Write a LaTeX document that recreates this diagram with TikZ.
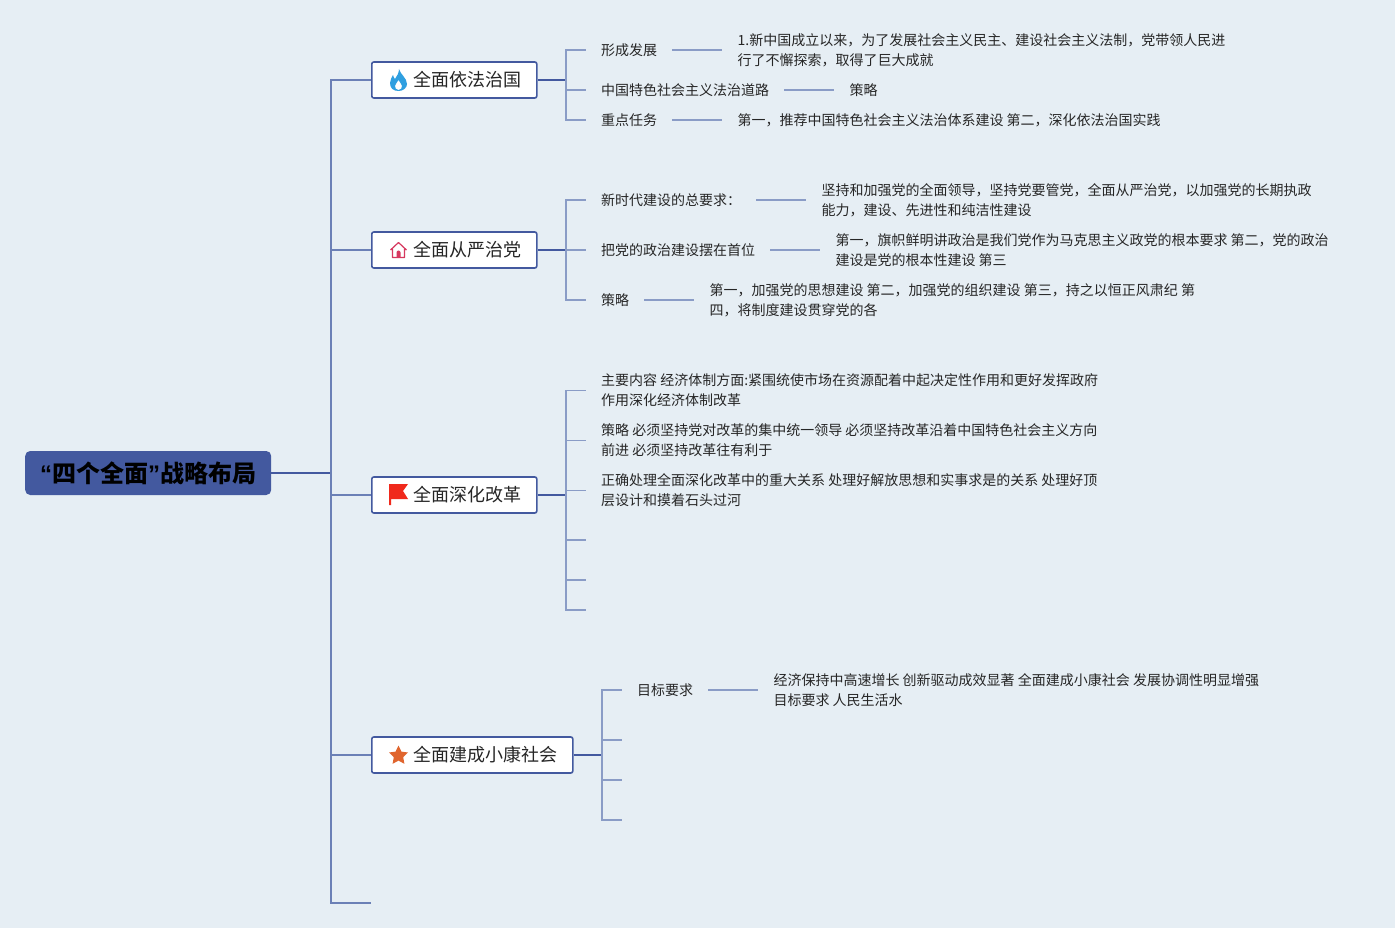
\documentclass[tikz,border=0pt]{standalone}
\usepackage{fontspec}
\usepackage{xcolor}
\setmainfont{Noto Sans CJK SC}
\newfontfamily\latinquote{Liberation Sans}
\usetikzlibrary{arrows.meta,positioning}
\definecolor{paper}{HTML}{E6EEF4}
\definecolor{deepline}{HTML}{43599F}
\definecolor{paleline}{HTML}{8A9CC6}
\definecolor{midline}{HTML}{6B80B6}

\begin{document}
\begin{tikzpicture}[
  x=1pt,y=-1pt,
  every node/.style={text=black!85,align=left},
  trunkline/.style={draw=deepline,line width=1.5pt},
  spineline/.style={draw=midline,line width=1.3pt},
  twigline/.style={draw=paleline,line width=1.3pt},
  rootbox/.style={fill=deepline,rounded corners=5pt,minimum width=246pt,minimum height=44pt,
                  inner sep=0pt,font=\fontsize{24}{28}\selectfont\bfseries,text=black},
  themebox/.style={draw=deepline,fill=white,line width=1.6pt,rounded corners=2pt,
                   minimum height=36pt,inner xsep=15pt,inner ysep=0pt,
                   font=\fontsize{18}{22}\selectfont},
  leaf/.style={inner xsep=15pt,inner ysep=0pt,font=\fontsize{14}{20}\selectfont},
  link/.style={node distance=50pt}
]
  \useasboundingbox[fill=paper] (0,0) rectangle (1395,928);

  \node[rootbox,anchor=west] (root) at (25,473) {{\latinquote “}四个全面{\latinquote ”}战略布局};
  \coordinate (trunk) at (331,473);
  \coordinate (tail) at (371,903);

  % theme boxes
  \node[themebox,anchor=west] (fazhi) at (371,80) {\hspace*{27pt}全面依法治国};
  \node[themebox,anchor=west] (congyan) at (371,250) {\hspace*{27pt}全面从严治党};
  \node[themebox,anchor=west] (gaige) at (371,495) {\hspace*{27pt}全面深化改革};
  \node[themebox,anchor=west] (xiaokang) at (371,755) {\hspace*{27pt}全面建成小康社会};

  \coordinate (fazhihub) at (566,80);
  \coordinate (congyanhub) at (566,250);
  \coordinate (gaigehub) at (566,495);
  \coordinate (xiaokanghub) at (602,755);

  % first theme
  \node[leaf,anchor=west] (faA) at (586,50) {形成发展};
  \node[leaf,link,right=of faA] (faAa) {1.新中国成立以来，为了发展社会主义民主、建设社会主义法制，党带领人民进\\行了不懈探索，取得了巨大成就};
  \node[leaf,anchor=west] (faB) at (586,90) {中国特色社会主义法治道路};
  \node[leaf,link,right=of faB] (faBa) {策略};
  \node[leaf,anchor=west] (faC) at (586,120) {重点任务};
  \node[leaf,link,right=of faC] (faCa) {第一，推荐中国特色社会主义法治体系建设 第二，深化依法治国实践};

  % second theme
  \node[leaf,anchor=west] (dangA) at (586,200) {新时代建设的总要求：};
  \node[leaf,link,right=of dangA] (dangAa) {坚持和加强党的全面领导，坚持党要管党，全面从严治党，以加强党的长期执政\\能力，建设、先进性和纯洁性建设};
  \node[leaf,anchor=west] (dangB) at (586,250) {把党的政治建设摆在首位};
  \node[leaf,link,right=of dangB] (dangBa) {第一，旗帜鲜明讲政治是我们党作为马克思主义政党的根本要求 第二，党的政治\\建设是党的根本性建设 第三};
  \node[leaf,anchor=west] (dangC) at (586,300) {策略};
  \node[leaf,link,right=of dangC] (dangCa) {第一，加强党的思想建设 第二，加强党的组织建设 第三，持之以恒正风肃纪 第\\四，将制度建设贯穿党的各};

  % third theme
  \node[leaf,anchor=west] (gaiA) at (586,390.5) {主要内容 经济体制方面:紧围统使市场在资源配着中起决定性作用和更好发挥政府\\作用深化经济体制改革};
  \node[leaf,anchor=west] (gaiB) at (586,440.5) {策略 必须坚持党对改革的集中统一领导 必须坚持改革沿着中国特色社会主义方向\\前进 必须坚持改革往有利于};
  \node[leaf,anchor=west] (gaiC) at (586,490.5) {正确处理全面深化改革中的重大关系 处理好解放思想和实事求是的关系 处理好顶\\层设计和摸着石头过河};
  \coordinate (gaiD) at (586,540);
  \coordinate (gaiE) at (586,580);
  \coordinate (gaiF) at (586,610);

  % fourth theme
  \node[leaf,anchor=west] (kangA) at (622,690) {目标要求};
  \node[leaf,link,right=of kangA] (kangAa) {经济保持中高速增长 创新驱动成效显著 全面建成小康社会 发展协调性明显增强\\目标要求 人民生活水};
  \coordinate (kangB) at (622,740);
  \coordinate (kangC) at (622,780);
  \coordinate (kangD) at (622,820);

  \draw[trunkline] (root.east) -- (trunk);
  \draw[spineline] (trunk) |- (fazhi.west);
  \draw[spineline] (trunk) |- (congyan.west);
  \draw[spineline] (trunk) |- (gaige.west);
  \draw[spineline] (trunk) |- (xiaokang.west);
  \draw[spineline] (trunk) |- (tail);

  \draw[trunkline] (fazhi.east) -- (fazhihub);
  \draw[twigline] (fazhihub) |- (faA.west);
  \draw[twigline] (fazhihub) |- (faB.west);
  \draw[twigline] (fazhihub) |- (faC.west);
  \draw[twigline] (faA) -- (faAa);
  \draw[twigline] (faB) -- (faBa);
  \draw[twigline] (faC) -- (faCa);

  \draw[trunkline] (congyan.east) -- (congyanhub);
  \draw[twigline] (congyanhub) |- (dangA.west);
  \draw[twigline] (congyanhub) -- (dangB.west);
  \draw[twigline] (congyanhub) |- (dangC.west);
  \draw[twigline] (dangA) -- (dangAa);
  \draw[twigline] (dangB) -- (dangBa);
  \draw[twigline] (dangC) -- (dangCa);

  \draw[trunkline] (gaige.east) -- (gaigehub);
  \draw[twigline] (gaigehub) |- (gaiA.west);
  \draw[twigline] (gaigehub) |- (gaiB.west);
  \draw[twigline] (gaigehub) |- (gaiC.west);
  \draw[twigline] (gaigehub) |- (gaiD);
  \draw[twigline] (gaigehub) |- (gaiE);
  \draw[twigline] (gaigehub) |- (gaiF);

  \draw[trunkline] (xiaokang.east) -- (xiaokanghub);
  \draw[twigline] (xiaokanghub) |- (kangA.west);
  \draw[twigline] (xiaokanghub) |- (kangB);
  \draw[twigline] (xiaokanghub) |- (kangC);
  \draw[twigline] (xiaokanghub) |- (kangD);
  \draw[twigline] (kangA) -- (kangAa);

  % icons
  \fill[color={rgb,255:red,47;green,159;blue,224},even odd rule]
    (399,69) .. controls (400,74) and (407,78) .. (407,84)
    .. controls (407,88) and (403,91) .. (398.5,91)
    .. controls (393,91) and (390,88) .. (390,83)
    .. controls (390,80) and (392,77) .. (393,75)
    .. controls (393.5,77) and (394,78) .. (395,79)
    .. controls (397,76) and (399,73) .. (399,69) -- cycle
    (398.5,90) .. controls (396,90) and (395,88) .. (395,86)
    .. controls (395,84) and (397,83) .. (398.5,80)
    .. controls (400,83) and (402,84) .. (402,86)
    .. controls (402,88) and (401,90) .. (398.5,90) -- cycle;
  \draw[color={rgb,255:red,214;green,56;blue,95},line width=1.2pt,line join=round]
    (390.5,250) -- (398.5,242.5) -- (406.5,250) (392.5,249) -- (392.5,257.5) -- (404.5,257.5) -- (404.5,249);
  \fill[color={rgb,255:red,214;green,56;blue,95}] (396.5,258) -- (396.5,252.5)
    arc[start angle=180,end angle=0,radius=2pt] -- (400.5,258) -- cycle;
  \fill[color={rgb,255:red,240;green,41;blue,28}]
    (389,484) -- (408,484) -- (403,491) -- (408,499) -- (391,499) -- (391,505) -- (389,505) -- cycle;
  \fill[color={rgb,255:red,224;green,101;blue,46}]
    (398.5,745.5) -- (401.4,751.6) -- (408,752.5) -- (403.2,757.1) -- (404.4,763.8)
    -- (398.5,760.6) -- (392.6,763.8) -- (393.8,757.1) -- (389,752.5) -- (395.6,751.6) -- cycle;
\end{tikzpicture}
\end{document}
